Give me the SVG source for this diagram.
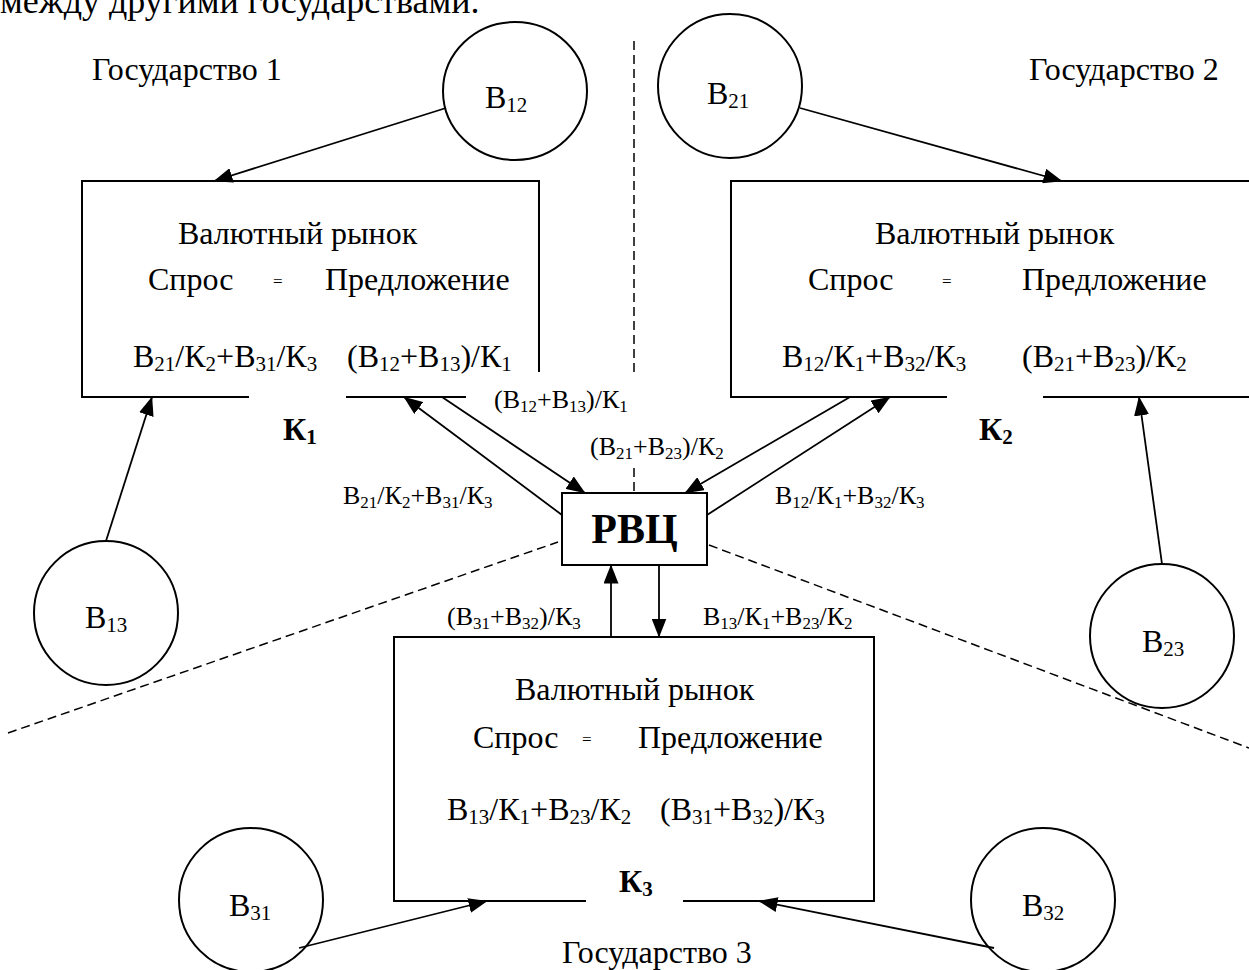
<svg xmlns="http://www.w3.org/2000/svg" width="1249" height="970" viewBox="0 0 1249 970">
  <style>
    text { font-family: "Liberation Serif", "Times New Roman", serif; font-size: 32px; fill: #000; }
    .sm { font-size: 26px; }
    .b { font-weight: bold; }
    .sb { font-size: 21px; }
    .sm .sb { font-size: 17px; }
    .eq { font-size: 17px; }
    .ln { fill: none; stroke: #000; stroke-width: 2; }
    .cn { fill: none; stroke: #000; stroke-width: 1.8; }
    .ds { fill: none; stroke: #000; stroke-width: 1.5; stroke-dasharray: 9 5; }
    .ov { fill: #fff; stroke: #000; stroke-width: 2; }
  </style>
  <defs>
    <marker id="ah" viewBox="0 0 19 15" refX="18.5" refY="7.5" markerWidth="19" markerHeight="15" markerUnits="userSpaceOnUse" orient="auto">
      <path d="M0,0 L19,7.5 L0,15 z" fill="#000"/>
    </marker>
  </defs>
  <rect width="1249" height="970" fill="#fff"/>

  <text x="0" y="13" style="font-size:36px">между другими государствами.</text>

  <!-- borders between the three states -->
  <g id="borders">
    <line class="ds" x1="634" y1="41" x2="634" y2="372"/>
    <line class="ds" x1="634" y1="468" x2="634" y2="493"/>
    <line class="ds" x1="8" y1="733" x2="558" y2="542"/>
    <line class="ds" x1="709" y1="545" x2="1249" y2="748"/>
  </g>

  <g id="state-labels">
    <text x="92" y="80">Государство 1</text>
    <text x="1029" y="80">Государство 2</text>
    <text x="562" y="963">Государство 3</text>
  </g>

  <!-- market of state 1 -->
  <g id="market1">
    <path class="ln" d="M539,372 V181 H82 V397 H249 M346,397 H466"/>
    <text x="178" y="244">Валютный рынок</text>
    <text x="148" y="290">Спрос</text>
    <text class="eq" x="273" y="287">=</text>
    <text x="325" y="290">Предложение</text>
    <text x="133" y="367">В<tspan class="sb" dy="4">21</tspan><tspan dy="-4">/К</tspan><tspan class="sb" dy="4">2</tspan><tspan dy="-4">+В</tspan><tspan class="sb" dy="4">31</tspan><tspan dy="-4">/К</tspan><tspan class="sb" dy="4">3</tspan></text>
    <text x="347" y="367">(В<tspan class="sb" dy="4">12</tspan><tspan dy="-4">+В</tspan><tspan class="sb" dy="4">13</tspan><tspan dy="-4">)/К</tspan><tspan class="sb" dy="4">1</tspan></text>
    <text class="b" x="283" y="440">К<tspan class="sb" dy="4">1</tspan></text>
  </g>

  <!-- market of state 2 -->
  <g id="market2">
    <path class="ln" d="M1249,181 H731 V397 H947 M1043,397 H1249"/>
    <text x="875" y="244">Валютный рынок</text>
    <text x="808" y="290">Спрос</text>
    <text class="eq" x="942" y="287">=</text>
    <text x="1022" y="290">Предложение</text>
    <text x="782" y="367">В<tspan class="sb" dy="4">12</tspan><tspan dy="-4">/К</tspan><tspan class="sb" dy="4">1</tspan><tspan dy="-4">+В</tspan><tspan class="sb" dy="4">32</tspan><tspan dy="-4">/К</tspan><tspan class="sb" dy="4">3</tspan></text>
    <text x="1022" y="367">(В<tspan class="sb" dy="4">21</tspan><tspan dy="-4">+В</tspan><tspan class="sb" dy="4">23</tspan><tspan dy="-4">)/К</tspan><tspan class="sb" dy="4">2</tspan></text>
    <text class="b" x="979" y="440">К<tspan class="sb" dy="4">2</tspan></text>
  </g>

  <!-- market of state 3 -->
  <g id="market3">
    <path class="ln" d="M586,901 H394 V637 H874 V901 H683"/>
    <text x="515" y="700">Валютный рынок</text>
    <text x="473" y="748">Спрос</text>
    <text class="eq" x="582" y="745">=</text>
    <text x="638" y="748">Предложение</text>
    <text x="447" y="820">В<tspan class="sb" dy="4">13</tspan><tspan dy="-4">/К</tspan><tspan class="sb" dy="4">1</tspan><tspan dy="-4">+В</tspan><tspan class="sb" dy="4">23</tspan><tspan dy="-4">/К</tspan><tspan class="sb" dy="4">2</tspan></text>
    <text x="660" y="820">(В<tspan class="sb" dy="4">31</tspan><tspan dy="-4">+В</tspan><tspan class="sb" dy="4">32</tspan><tspan dy="-4">)/К</tspan><tspan class="sb" dy="4">3</tspan></text>
    <text class="b" x="619" y="892">К<tspan class="sb" dy="4">3</tspan></text>
  </g>

  <!-- regional currency centre -->
  <g id="rvc">
    <rect class="ov" x="562" y="493" width="145" height="72"/>
    <text class="b" x="634.5" y="543" text-anchor="middle" style="font-size:42px">РВЦ</text>
  </g>

  <!-- currency holders -->
  <g id="b12">
    <ellipse class="ov" cx="515" cy="91" rx="72" ry="69"/>
    <text x="485" y="108">В<tspan class="sb" dy="4">12</tspan></text>
  </g>
  <g id="b21">
    <ellipse class="ov" cx="730" cy="86" rx="72" ry="72"/>
    <text x="707" y="104">В<tspan class="sb" dy="4">21</tspan></text>
  </g>
  <g id="b13">
    <circle class="ov" cx="106" cy="613" r="72"/>
    <text x="85" y="628">В<tspan class="sb" dy="4">13</tspan></text>
  </g>
  <g id="b23">
    <circle class="ov" cx="1162" cy="636" r="72"/>
    <text x="1142" y="652">В<tspan class="sb" dy="4">23</tspan></text>
  </g>
  <g id="b31">
    <circle class="ov" cx="251" cy="900" r="72"/>
    <text x="229" y="916">В<tspan class="sb" dy="4">31</tspan></text>
  </g>
  <g id="b32">
    <circle class="ov" cx="1043" cy="900" r="72"/>
    <text x="1022" y="916">В<tspan class="sb" dy="4">32</tspan></text>
  </g>

  <!-- flow labels -->
  <g id="flow-labels">
    <text class="sm" x="494" y="408">(В<tspan class="sb" dy="4">12</tspan><tspan dy="-4">+В</tspan><tspan class="sb" dy="4">13</tspan><tspan dy="-4">)/К</tspan><tspan class="sb" dy="4">1</tspan></text>
    <text class="sm" x="590" y="455">(В<tspan class="sb" dy="4">21</tspan><tspan dy="-4">+В</tspan><tspan class="sb" dy="4">23</tspan><tspan dy="-4">)/К</tspan><tspan class="sb" dy="4">2</tspan></text>
    <text class="sm" x="343" y="504">В<tspan class="sb" dy="4">21</tspan><tspan dy="-4">/К</tspan><tspan class="sb" dy="4">2</tspan><tspan dy="-4">+В</tspan><tspan class="sb" dy="4">31</tspan><tspan dy="-4">/К</tspan><tspan class="sb" dy="4">3</tspan></text>
    <text class="sm" x="775" y="504">В<tspan class="sb" dy="4">12</tspan><tspan dy="-4">/К</tspan><tspan class="sb" dy="4">1</tspan><tspan dy="-4">+В</tspan><tspan class="sb" dy="4">32</tspan><tspan dy="-4">/К</tspan><tspan class="sb" dy="4">3</tspan></text>
    <text class="sm" x="447" y="625">(В<tspan class="sb" dy="4">31</tspan><tspan dy="-4">+В</tspan><tspan class="sb" dy="4">32</tspan><tspan dy="-4">)/К</tspan><tspan class="sb" dy="4">3</tspan></text>
    <text class="sm" x="703" y="625">В<tspan class="sb" dy="4">13</tspan><tspan dy="-4">/К</tspan><tspan class="sb" dy="4">1</tspan><tspan dy="-4">+В</tspan><tspan class="sb" dy="4">23</tspan><tspan dy="-4">/К</tspan><tspan class="sb" dy="4">2</tspan></text>
  </g>

  <!-- connectors -->
  <g id="connectors" class="cn">
    <line x1="446" y1="108" x2="214" y2="181" marker-end="url(#ah)"/>
    <line x1="800" y1="108" x2="1062" y2="181" marker-end="url(#ah)"/>
    <line x1="106" y1="541" x2="152" y2="397" marker-end="url(#ah)"/>
    <line x1="1162" y1="564" x2="1139" y2="397" marker-end="url(#ah)"/>
    <line x1="299" y1="948" x2="487" y2="901" marker-end="url(#ah)"/>
    <line x1="994" y1="948" x2="759" y2="901" marker-end="url(#ah)"/>
    <line x1="562" y1="515" x2="404" y2="397" marker-end="url(#ah)"/>
    <line x1="442" y1="397" x2="585" y2="493" marker-end="url(#ah)"/>
    <line x1="850" y1="397" x2="685" y2="493" marker-end="url(#ah)"/>
    <line x1="707" y1="515" x2="890" y2="397" marker-end="url(#ah)"/>
    <line x1="611" y1="637" x2="611" y2="565" marker-end="url(#ah)"/>
    <line x1="659" y1="565" x2="659" y2="637" marker-end="url(#ah)"/>
  </g>
</svg>
